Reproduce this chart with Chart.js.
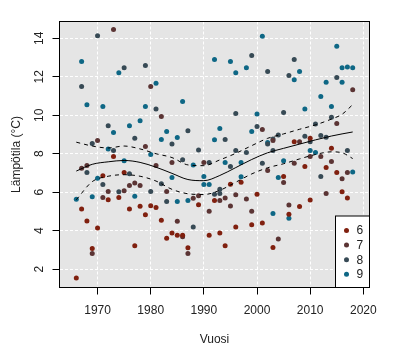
<!DOCTYPE html>
<html>
<head>
<meta charset="utf-8">
<script src="https://cdn.jsdelivr.net/npm/chart.js@4"></script>
<style>
  body { margin: 0; background: #fff; }
</style>
</head>
<body>
<canvas id="chart" width="400" height="362"></canvas>
<script>
// monthly temperatures per year

const seriesLabels = ["6", "7", "8", "9"];
const seriesColors = ["#80200f", "#5b3434", "#374a55", "#0e6785"];

const years6 = [1966, 1967, 1968, 1969, 1970, 1971, 1972, 1973, 1974, 1975, 1976, 1977, 1978, 1979, 1980, 1981, 1982, 1983, 1984, 1985, 1986, 1987, 1989, 1991, 1992, 1993, 1994, 1995, 1996, 1997, 1999, 2000, 2001, 2003, 2005, 2006, 2007, 2008, 2009, 2010, 2010, 2013, 2014, 2015, 2016, 2017];
const temps6 = [1.55, 5.13, 4.50, 3.08, 4.14, 6.86, 5.61, 7.86, 5.73, 7.03, 5.13, 3.22, 5.27, 4.83, 5.30, 5.21, 4.54, 3.61, 3.88, 3.76, 3.76, 3.12, 5.35, 3.76, 5.57, 3.88, 3.22, 6.41, 4.19, 6.52, 4.31, 5.90, 4.40, 3.13, 6.82, 4.85, 8.62, 5.26, 7.34, 5.59, 8.81, 7.29, 8.29, 7.03, 6.02, 5.70];

const years7 = [1967, 1968, 1969, 1970, 1971, 1972, 1973, 1975, 1976, 1977, 1978, 1979, 1980, 1981, 1982, 1983, 1984, 1985, 1986, 1987, 1988, 1989, 1990, 1991, 1993, 1994, 1995, 1996, 1998, 1999, 2001, 2002, 2003, 2004, 2005, 2006, 2007, 2008, 2010, 2012, 2013, 2014, 2015, 2016, 2017, 2018];
const temps7 = [7.25, 7.39, 2.82, 8.69, 5.73, 6.04, 14.45, 6.08, 6.35, 6.48, 6.35, 8.37, 11.49, 7.39, 9.93, 6.04, 7.55, 4.49, 3.69, 2.82, 5.69, 5.82, 7.55, 5.01, 5.57, 5.70, 5.29, 5.87, 5.65, 5.01, 9.26, 7.13, 8.69, 3.57, 6.51, 5.33, 7.51, 8.62, 7.86, 7.86, 5.93, 7.60, 9.57, 6.70, 7.03, 11.33];

const years8 = [1967, 1968, 1969, 1970, 1971, 1972, 1973, 1974, 1975, 1976, 1977, 1979, 1980, 1981, 1982, 1983, 1984, 1986, 1987, 1988, 1989, 1991, 1992, 1993, 1993, 1994, 1995, 1996, 1996, 1998, 1999, 2000, 2001, 2002, 2002, 2003, 2003, 2004, 2005, 2006, 2007, 2009, 2010, 2011, 2012, 2012, 2013, 2014, 2015, 2017];
const temps8 = [11.49, 7.03, 8.53, 14.13, 6.40, 9.46, 8.17, 6.03, 12.47, 6.96, 8.81, 12.58, 6.04, 10.33, 6.44, 5.52, 8.51, 7.69, 9.20, 4.19, 8.20, 7.55, 5.90, 5.94, 6.16, 8.74, 7.34, 10.09, 8.17, 8.06, 13.10, 9.41, 7.51, 12.27, 8.50, 8.77, 8.17, 8.97, 10.14, 12.06, 12.89, 8.91, 8.62, 9.54, 8.95, 6.82, 8.86, 9.90, 11.96, 8.17];

const years9 = [1966, 1967, 1968, 1969, 1970, 1971, 1972, 1973, 1974, 1975, 1976, 1977, 1978, 1979, 1980, 1981, 1982, 1983, 1984, 1985, 1985, 1986, 1987, 1988, 1990, 1990, 1991, 1992, 1992, 1993, 1994, 1995, 1996, 1997, 1997, 1998, 1999, 2000, 2001, 2002, 2003, 2004, 2005, 2006, 2007, 2008, 2009, 2010, 2011, 2012, 2013, 2014, 2015, 2016, 2016, 2017, 2018, 2018];
const temps9 = [5.63, 12.79, 10.55, 5.77, 6.72, 10.45, 8.25, 9.10, 12.21, 7.63, 9.46, 5.79, 9.71, 10.45, 7.96, 11.66, 8.74, 9.15, 6.77, 8.84, 5.52, 10.71, 5.57, 7.42, 6.82, 6.40, 6.40, 12.89, 8.72, 9.31, 7.55, 12.79, 12.21, 6.80, 7.55, 12.47, 9.15, 10.07, 14.10, 8.58, 4.90, 6.77, 7.63, 4.65, 11.85, 12.27, 10.33, 8.17, 8.06, 10.97, 11.72, 10.45, 13.58, 12.47, 11.72, 12.51, 12.47, 7.05];

// smoothed trend and its confidence band
const fitYears = [1966, 1969, 1972, 1975, 1978, 1981, 1984, 1987, 1990, 1993, 1996, 1999, 2002, 2005, 2008, 2011, 2014, 2016, 2018];
const fitMid   = [7.10, 7.45, 7.58, 7.65, 7.55, 7.30, 6.98, 6.66, 6.60, 6.87, 7.28, 7.70, 8.05, 8.28, 8.50, 8.72, 8.92, 9.03, 9.13];
const fitUpper = [8.60, 8.40, 8.30, 8.40, 8.25, 8.00, 7.80, 7.42, 7.38, 7.68, 8.02, 8.42, 8.80, 9.03, 9.27, 9.50, 9.80, 10.05, 10.55];
const fitLower = [5.61, 6.55, 6.83, 6.91, 6.83, 6.58, 6.15, 5.92, 5.88, 6.10, 6.52, 6.95, 7.27, 7.48, 7.73, 7.96, 8.10, 8.05, 7.75];

const xTicks = [1970, 1980, 1990, 2000, 2010, 2020];
const yTicks = [2, 4, 6, 8, 10, 12, 14];

const FONT = "12px 'Liberation Sans', Arial, sans-serif";
const TEXT = "#222";

const toPoints = (xs, ys) => xs.map((x, i) => ({ x: x, y: ys[i] }));

const pointSets = [[years6, temps6], [years7, temps7], [years8, temps8], [years9, temps9]].map((s, i) => ({
  label: seriesLabels[i],
  data: toPoints(s[0], s[1]),
  backgroundColor: seriesColors[i],
  borderWidth: 0,
  pointRadius: 2.5,
  order: 10 + i,
}));

const curve = (ys, dash) => ({
  data: toPoints(fitYears, ys),
  showLine: true,
  borderColor: "#000",
  borderWidth: 1,
  borderDash: dash,
  pointRadius: 0,
  cubicInterpolationMode: "monotone",
  order: 0,
});

// gray panel, box, rotated y labels, titles and the little legend (R look)
const rStyle = {
  id: "rStyle",
  beforeDraw(chart) {
    const { ctx, chartArea: a } = chart;
    ctx.save();
    ctx.fillStyle = "#e5e5e5";
    ctx.fillRect(a.left, a.top, a.right - a.left, a.bottom - a.top);
    ctx.restore();
  },
  afterDraw(chart) {
    const { ctx, chartArea: a, scales } = chart;
    ctx.save();
    ctx.strokeStyle = "#000";
    ctx.lineWidth = 1;
    ctx.strokeRect(a.left, a.top, a.right - a.left, a.bottom - a.top);

    ctx.font = FONT;
    ctx.fillStyle = TEXT;
    ctx.textAlign = "center";
    ctx.textBaseline = "middle";
    xTicks.forEach((v) => {
      ctx.fillText(String(v), scales.x.getPixelForValue(v), 311);
    });
    yTicks.forEach((v) => {
      ctx.save();
      ctx.translate(39.5, scales.y.getPixelForValue(v));
      ctx.rotate(-Math.PI / 2);
      ctx.fillText(String(v), 0, 0);
      ctx.restore();
    });
    ctx.fillText("Vuosi", (a.left + a.right) / 2, 340);
    ctx.save();
    ctx.translate(17, (a.top + a.bottom) / 2);
    ctx.rotate(-Math.PI / 2);
    ctx.fillText("Lämpötila (°C)", 0, 0);
    ctx.restore();

    // legend box in the bottom right corner
    const w = 34, h = 71.5;
    const lx = a.right - w, ly = a.bottom - h;
    ctx.fillStyle = "#fff";
    ctx.fillRect(lx, ly, w, h);
    ctx.strokeRect(lx, ly, w, h);
    ctx.textAlign = "left";
    seriesLabels.forEach((lab, i) => {
      const cy = ly + 14.5 + i * 14.6;
      ctx.fillStyle = seriesColors[i];
      ctx.beginPath();
      ctx.arc(lx + 11, cy, 2.5, 0, Math.PI * 2);
      ctx.fill();
      ctx.fillStyle = TEXT;
      ctx.fillText(lab, lx + 21, cy + 0.5);
    });
    ctx.restore();
  },
};

new Chart(document.getElementById("chart"), {
  type: "scatter",
  data: {
    datasets: [
      curve(fitMid, []),
      curve(fitUpper, [4, 4]),
      curve(fitLower, [4, 4]),
      ...pointSets,
    ],
  },
  options: {
    responsive: false,
    animation: false,
    events: [],
    layout: { padding: { top: 21.5, right: 30.5, left: 0, bottom: 0 } },
    plugins: { legend: { display: false }, tooltip: { enabled: false } },
    scales: {
      x: {
        type: "linear",
        min: 1962.84,
        max: 2021.16,
        afterBuildTicks: (s) => { s.ticks = xTicks.map((v) => ({ value: v })); },
        afterFit: (s) => { s.height = 74.5; },
        ticks: { display: false },
        grid: { color: "#fff", lineWidth: 1, tickColor: "#000", tickLength: 7 },
        border: { display: false, dash: [3, 2] },
      },
      y: {
        type: "linear",
        min: 1.05,
        max: 14.87,
        afterBuildTicks: (s) => { s.ticks = yTicks.map((v) => ({ value: v })); },
        afterFit: (s) => { s.width = 59.5; },
        ticks: { display: false },
        grid: { color: "#fff", lineWidth: 1, tickColor: "#000", tickLength: 7 },
        border: { display: false, dash: [3, 2] },
      },
    },
  },
  plugins: [rStyle],
});
</script>
</body>
</html>
